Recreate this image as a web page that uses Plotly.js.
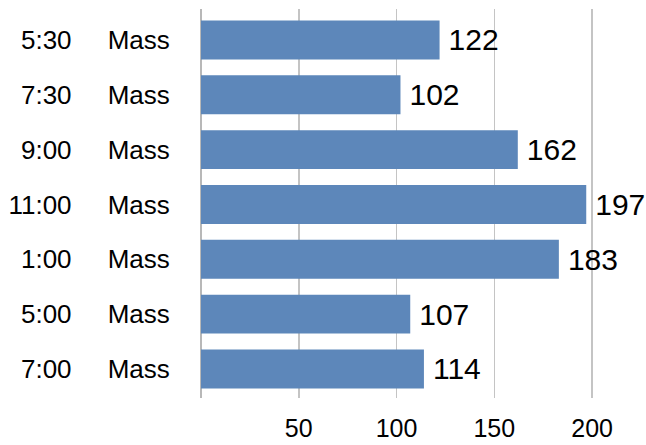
<!DOCTYPE html>
<html>
<head>
<meta charset="utf-8">
<script src="https://cdn.plot.ly/plotly-3.0.1.min.js"></script>
<style>html,body{margin:0;padding:0;background:#fff;}#chart{width:646px;height:445px;}</style>
</head>
<body>
<div id="chart"></div>
<script>
const times = ["5:30", "7:30", "9:00", "11:00", "1:00", "5:00", "7:00"];
const services = ["Mass", "Mass", "Mass", "Mass", "Mass", "Mass", "Mass"];
const attendance = [122, 102, 162, 197, 183, 107, 114];
const xTicks = [50, 100, 150, 200];

const idx = times.map((t, i) => i);
const NB = "\u00a0";
const tickText = times.map((t, i) => t + NB.repeat(5) + services[i]);

const trace = {
  type: "bar",
  orientation: "h",
  x: attendance,
  y: idx,
  width: 0.71,
  marker: { color: "#5d87ba" },
  text: attendance.map(v => "\u2009" + String(v)),
  textposition: "outside",
  constraintext: "none",
  cliponaxis: false,
  textfont: { family: "Liberation Sans, Arial, sans-serif", size: 30, color: "#000" },
  hoverinfo: "skip"
};

const layout = {
  width: 646,
  height: 445,
  margin: { l: 201, r: 5, t: 9, b: 47 },
  paper_bgcolor: "#fff",
  plot_bgcolor: "#fff",
  showlegend: false,
  font: { family: "Liberation Sans, Arial, sans-serif", color: "#000" },
  xaxis: {
    range: [0, 225],
    tickvals: xTicks,
    ticktext: xTicks.map(String),
    showgrid: true,
    gridcolor: "#c4c4c4",
    gridwidth: 1.5,
    zeroline: true,
    zerolinecolor: "#b8b8b8",
    zerolinewidth: 2.5,
    showline: false,
    ticks: "outside",
    ticklen: 8,
    tickcolor: "rgba(0,0,0,0)",
    tickfont: { size: 25, color: "#000" },
    fixedrange: true
  },
  yaxis: {
    range: [6.53, -0.565],
    tickvals: idx,
    ticktext: tickText,
    showgrid: false,
    zeroline: false,
    showline: false,
    ticks: "outside",
    ticklen: 25,
    tickcolor: "rgba(0,0,0,0)",
    tickfont: { size: 26, color: "#000" },
    fixedrange: true
  }
};

Plotly.newPlot("chart", [trace], layout, { staticPlot: true, displayModeBar: false });
</script>
</body>
</html>
